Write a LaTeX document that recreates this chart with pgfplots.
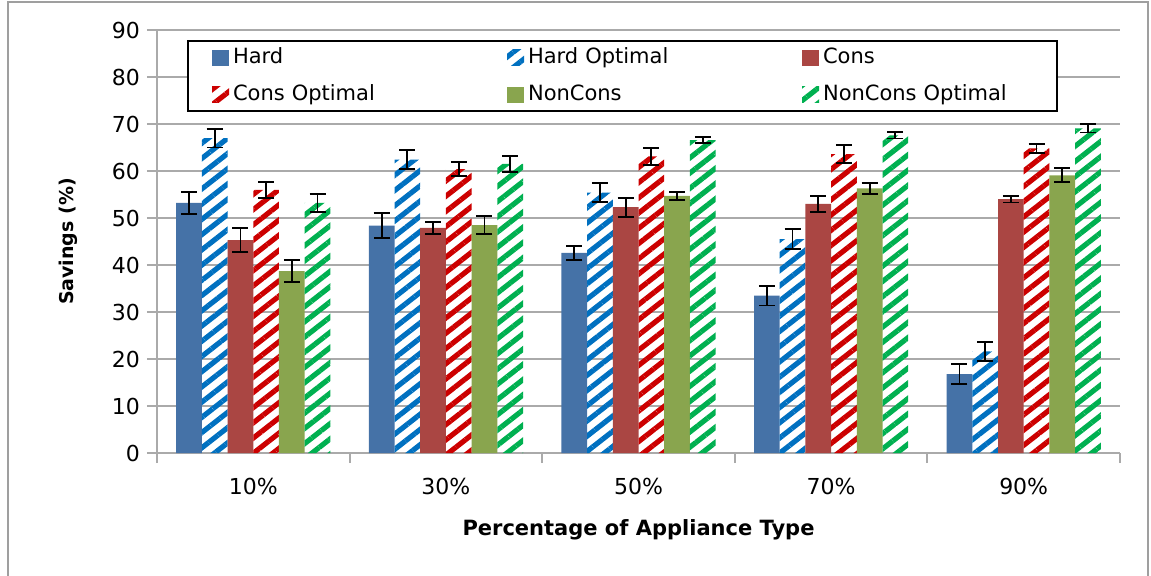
\documentclass[border=0pt]{standalone}
\usepackage{fontspec}
\setmainfont{DejaVu Sans}
\usepackage{pgfplots}
\pgfplotsset{compat=1.18}
\usetikzlibrary{patterns.meta}

\definecolor{hardc}{RGB}{69,114,167}
\definecolor{consc}{RGB}{170,70,67}
\definecolor{nonc}{RGB}{137,165,78}
\definecolor{hardo}{RGB}{0,112,192}
\definecolor{conso}{RGB}{204,0,0}
\definecolor{nono}{RGB}{0,176,80}
\definecolor{gridc}{RGB}{170,170,170}

\pgfplotsset{
  errs/.style={error bars/.cd, y dir=both, y explicit,
    error bar style={black, line width=0.9pt},
    error mark options={rotate=90, mark size=4pt, line width=0.9pt, black}},
  solidbar/.style={fill=#1, draw=none, errs},
  hatchbar/.style={draw=none, pattern={Lines[angle=38,distance=6pt,line width=2.6pt]}, pattern color=#1, errs},
}

\begin{document}
\begin{tikzpicture}
\useasboundingbox (-78.5pt,-61pt) rectangle (497pt,226.5pt);
\draw[gray!75, line width=1pt] (-74.5pt,-62pt) -- (-74.5pt,225.5pt) -- (495.5pt,225.5pt) -- (495.5pt,-62pt);
\begin{axis}[
  at={(0,0)}, anchor=south west,
  scale only axis, width=481.5pt, height=211.5pt,
  ybar=0pt, bar width=12.85pt,
  xmin=-0.5, xmax=4.5, ymin=0, ymax=90,
  ytick={0,10,...,90},
  xtick={0,1,2,3,4},
  xticklabels={10\%,30\%,50\%,70\%,90\%},
  minor xtick={-0.5,0.5,1.5,2.5,3.5,4.5},
  major x tick style={draw=none},
  tick align=outside,
  major tick length=5pt, minor tick length=5pt,
  axis x line*=bottom, axis y line*=left,
  axis line style={-, gridc, line width=1pt},
  tick style={gridc, line width=1pt},
  ymajorgrids, major grid style={gridc, line width=1pt},
  /pgf/number format/assume math mode=true,
  ticklabel style={font=\fontsize{11}{13}\selectfont, text=black},
  xticklabel style={yshift=-4pt},
  xlabel={Percentage of Appliance Type},
  ylabel={Savings (\%)},
  xlabel style={at={(axis description cs:0.5,-0.182)}, anchor=center, font=\bfseries\fontsize{10.5}{12}\selectfont},
  ylabel style={at={(axis description cs:-0.092,0.5)}, anchor=center, font=\bfseries\fontsize{9.5}{11}\selectfont},
  legend columns=3,
  legend image code/.code={\fill[#1] (0pt,-4pt) rectangle (8.5pt,4pt);},
  legend style={at={(axis description cs:0.0312,0.976)}, anchor=north west,
    draw=black, line width=1pt, fill=white,
    inner xsep=12pt, inner ysep=1pt, row sep=4pt,
    font=\fontsize{10.5}{12}\selectfont,
    nodes={text width=131pt, text height=8pt, text depth=2.5pt, inner sep=2pt, anchor=west},
    /tikz/every even column/.append style={column sep=4pt},
    /tikz/column 6/.style={nodes={text width=103pt}}},
]
\addplot[solidbar=hardc] coordinates {
  (0,53.2) +- (0,2.3) (1,48.4) +- (0,2.6) (2,42.6) +- (0,1.5) (3,33.5) +- (0,2.1) (4,16.8) +- (0,2.1)};
\addplot[hatchbar=hardo] coordinates {
  (0,67.0) +- (0,2.0) (1,62.4) +- (0,2.0) (2,55.4) +- (0,2.0) (3,45.5) +- (0,2.1) (4,21.6) +- (0,2.1)};
\addplot[solidbar=consc] coordinates {
  (0,45.3) +- (0,2.5) (1,47.9) +- (0,1.3) (2,52.3) +- (0,2.0) (3,53.0) +- (0,1.7) (4,54.0) +- (0,0.7)};
\addplot[hatchbar=conso] coordinates {
  (0,56.0) +- (0,1.7) (1,60.4) +- (0,1.5) (2,63.1) +- (0,1.8) (3,63.6) +- (0,1.9) (4,64.8) +- (0,1.0)};
\addplot[solidbar=nonc] coordinates {
  (0,38.7) +- (0,2.3) (1,48.5) +- (0,1.9) (2,54.7) +- (0,0.9) (3,56.3) +- (0,1.2) (4,59.1) +- (0,1.5)};
\addplot[hatchbar=nono] coordinates {
  (0,53.2) +- (0,1.9) (1,61.5) +- (0,1.7) (2,66.6) +- (0,0.6) (3,67.6) +- (0,0.7) (4,69.1) +- (0,0.9)};
\legend{Hard, Hard Optimal, Cons, Cons Optimal, NonCons, NonCons Optimal}
\end{axis}
\end{tikzpicture}
\end{document}
